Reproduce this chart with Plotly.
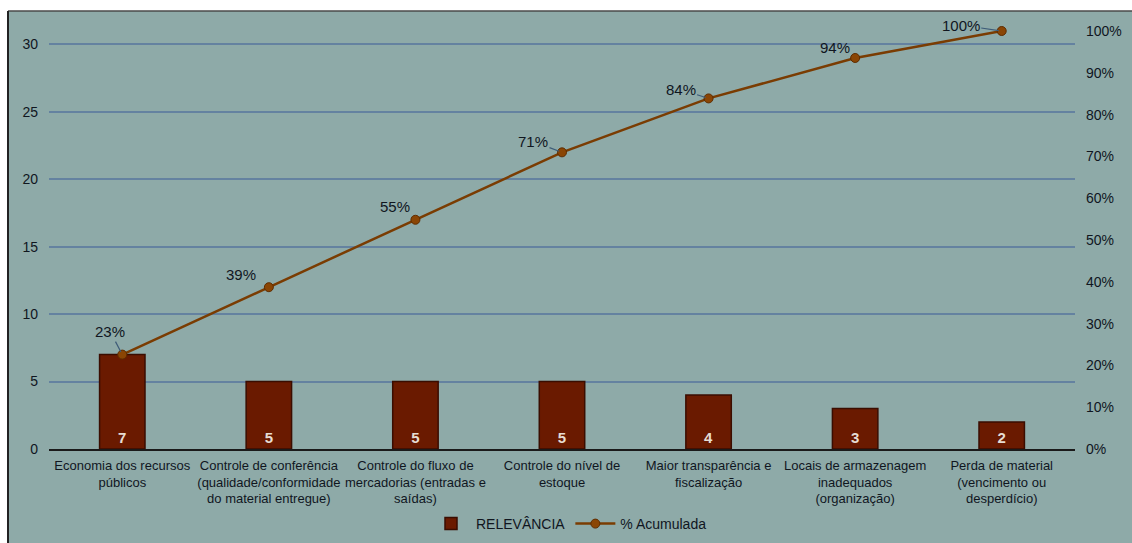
import plotly.graph_objects as go

categories = [
    "Economia dos recursos<br>públicos",
    "Controle de conferência<br>(qualidade/conformidade<br>do material entregue)",
    "Controle do fluxo de<br>mercadorias (entradas e<br>saídas)",
    "Controle do nível de<br>estoque",
    "Maior transparência e<br>fiscalização",
    "Locais de armazenagem<br>inadequados<br>(organização)",
    "Perda de material<br>(vencimento ou<br>desperdício)",
]
relevancia = [7, 5, 5, 5, 4, 3, 2]
acumulada_labels = ["23%", "39%", "55%", "71%", "84%", "94%", "100%"]

total = sum(relevancia)
acumulada = []
s = 0
for v in relevancia:
    s += v
    acumulada.append(s / total)

W, H = 1132, 543
ML, MR, MT, MB = 49, 57, 31, 94
PW, PH = W - ML - MR, H - MT - MB

def px_x(px):
    return (px - ML) / PW

def px_y(py):
    return (H - MB - py) / PH

TXT = "#10161f"
BG = "#8eaaa8"
GRID = "#6482a0"
FONT = "Liberation Sans, Arial, sans-serif"

fig = go.Figure()
fig.add_trace(go.Bar(
    x=categories, y=relevancia, name="RELEVÂNCIA",
    marker=dict(color="#6a1a00", line=dict(color="#3a0d00", width=1.5)),
    width=0.31,
    text=[str(v) for v in relevancia],
    textposition="inside", insidetextanchor="start", textangle=0,
    textfont=dict(color="#e6ddd4", size=15, family=FONT, weight="bold"),
    constraintext="none",
))
fig.add_trace(go.Scatter(
    x=categories, y=acumulada, name="% Acumulada", yaxis="y2",
    mode="lines+markers",
    line=dict(color="#7a3c02", width=2.5),
    marker=dict(color="#8a4504", size=9, line=dict(color="#5e2c00", width=1)),
    cliponaxis=False,
))

offsets = [(-12, -23), (-28, -13), (-20, -13), (-29, -11), (-28, -9), (-20, -10), (-41, -6)]
arrows = [True, False, False, True, True, False, True]
for c, v, lab, (ax, ay), ar in zip(categories, acumulada, acumulada_labels, offsets, arrows):
    fig.add_annotation(
        x=c, y=v, xref="x", yref="y2", text=lab,
        showarrow=True, arrowhead=0, arrowwidth=1.2,
        arrowcolor="#3e5c78" if ar else "rgba(0,0,0,0)",
        ax=ax, ay=ay, standoff=3,
        font=dict(size=15, color=TXT, family=FONT),
    )

shapes = [
    dict(type="rect", xref="paper", yref="paper", x0=px_x(-5), x1=px_x(W + 5),
         y0=px_y(11), y1=px_y(-5), fillcolor="white", line=dict(width=0), layer="above"),
    dict(type="rect", xref="paper", yref="paper", x0=px_x(-5), x1=px_x(8),
         y0=px_y(H + 5), y1=px_y(-5), fillcolor="white", line=dict(width=0), layer="above"),
    dict(type="line", xref="paper", yref="paper", x0=px_x(8), x1=px_x(W + 5),
         y0=px_y(11), y1=px_y(11), line=dict(color="#4a4a4a", width=1.5), layer="above"),
    dict(type="line", xref="paper", yref="paper", x0=px_x(8), x1=px_x(8),
         y0=px_y(11), y1=px_y(H + 5), line=dict(color="#222222", width=2), layer="above"),
]

fig.update_layout(
    width=W, height=H,
    margin=dict(l=ML, r=MR, t=MT, b=MB, autoexpand=False),
    paper_bgcolor=BG, plot_bgcolor=BG,
    font=dict(family=FONT, color=TXT, size=14),
    showlegend=True,
    legend=dict(orientation="h", x=px_x(569), xanchor="center", y=px_y(524), yanchor="middle",
                font=dict(size=14, color=TXT, family=FONT), bgcolor="rgba(0,0,0,0)",
                itemwidth=40, tracegroupgap=0),
    xaxis=dict(showgrid=False, showline=True, linecolor="#1a1a1a", linewidth=2,
               automargin=False, ticklabelstandoff=3,
               tickfont=dict(size=13, color=TXT, family=FONT), ticks="", fixedrange=True),
    yaxis=dict(range=[0, total], dtick=5, showgrid=True, gridcolor=GRID, gridwidth=1.5,
               automargin=False,
               zeroline=False, showline=False, ticks="", ticklabelstandoff=10,
               tickfont=dict(size=14, color=TXT, family=FONT)),
    yaxis2=dict(range=[0, 1], dtick=0.1, tickformat=".0%", overlaying="y", side="right",
                automargin=False,
                showgrid=False, zeroline=False, showline=False, ticks="", ticklabelstandoff=10,
                tickfont=dict(size=14, color=TXT, family=FONT)),
    shapes=shapes,
)

fig.write_html("out.html")
